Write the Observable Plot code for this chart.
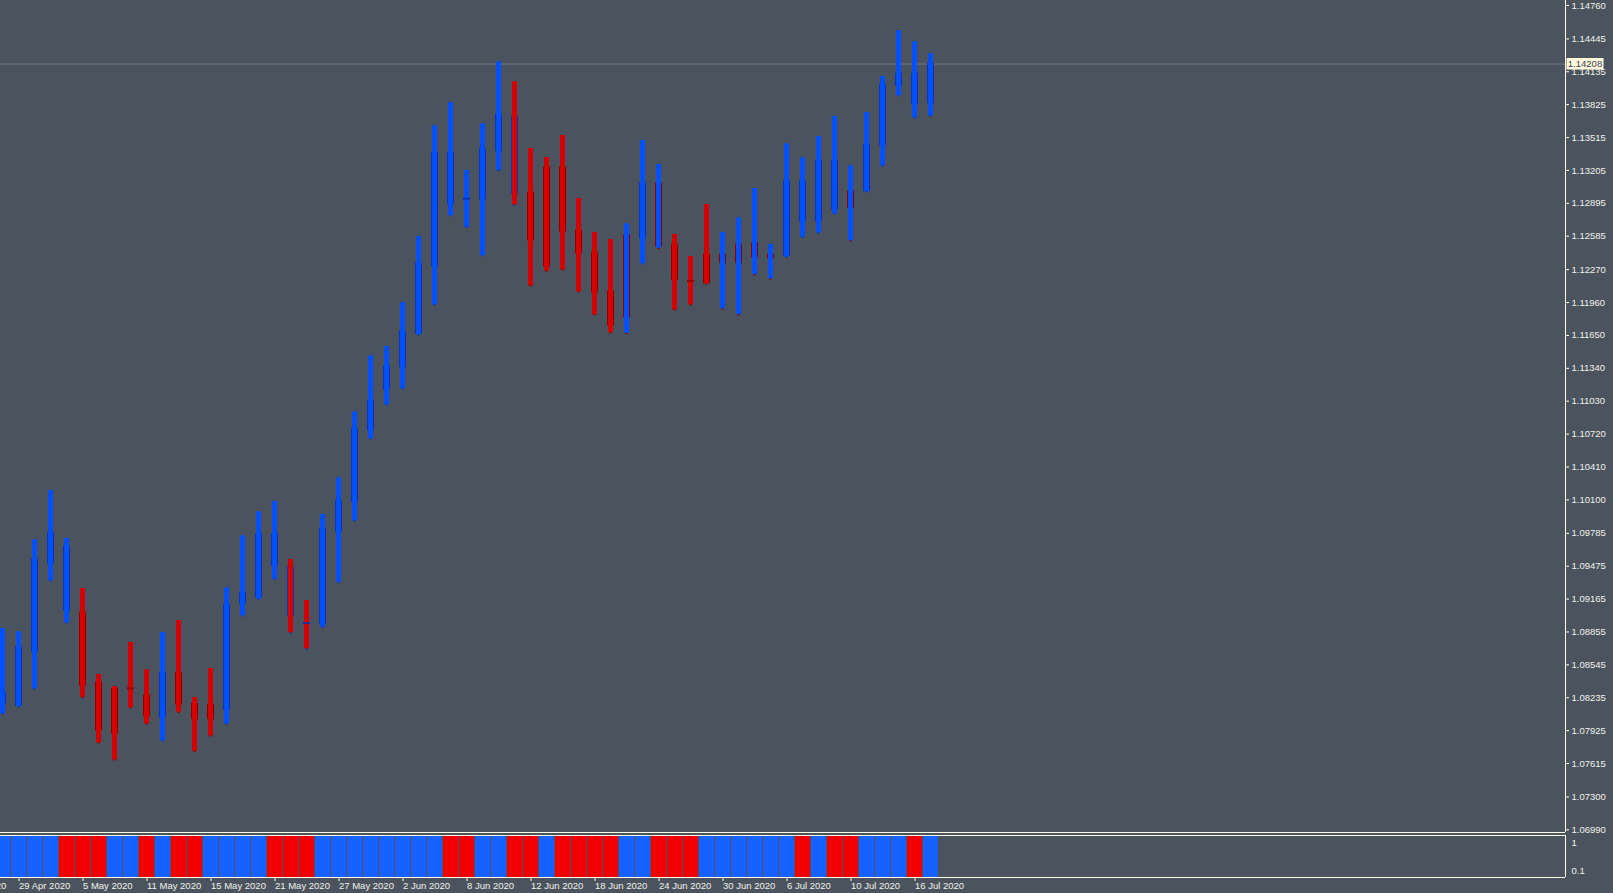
<!DOCTYPE html>
<html>
<head>
<meta charset="utf-8">
<script src="https://cdn.jsdelivr.net/npm/d3@7"></script>
<script src="https://cdn.jsdelivr.net/npm/@observablehq/plot@0.6"></script>
<style>
  html, body { margin: 0; padding: 0; background: #4b545e; overflow: hidden; }
  #chart { width: 1613px; height: 893px; }
  #chart svg { display: block; }
</style>
</head>
<body>
<div id="chart"></div>
<script>
// ---- data (EURUSD-style daily bars) ----
const dates = [
  "23 Apr 2020","24 Apr 2020","27 Apr 2020","28 Apr 2020","29 Apr 2020","30 Apr 2020",
  "1 May 2020","4 May 2020","5 May 2020","6 May 2020","7 May 2020","8 May 2020",
  "11 May 2020","12 May 2020","13 May 2020","14 May 2020","15 May 2020",
  "18 May 2020","19 May 2020","20 May 2020","21 May 2020","22 May 2020",
  "25 May 2020","26 May 2020","27 May 2020","28 May 2020","29 May 2020",
  "1 Jun 2020","2 Jun 2020","3 Jun 2020","4 Jun 2020","5 Jun 2020",
  "8 Jun 2020","9 Jun 2020","10 Jun 2020","11 Jun 2020","12 Jun 2020",
  "15 Jun 2020","16 Jun 2020","17 Jun 2020","18 Jun 2020","19 Jun 2020",
  "22 Jun 2020","23 Jun 2020","24 Jun 2020","25 Jun 2020","26 Jun 2020",
  "29 Jun 2020","30 Jun 2020","1 Jul 2020","2 Jul 2020","3 Jul 2020",
  "6 Jul 2020","7 Jul 2020","8 Jul 2020","9 Jul 2020","10 Jul 2020",
  "13 Jul 2020","14 Jul 2020","15 Jul 2020","16 Jul 2020","17 Jul 2020"
];
const firstCandleDate = "28 Apr 2020";

const open  = [1.08184,1.08159,1.08674,1.09503,1.09057,1.09032,1.08379,1.08319,1.08322,1.08256,
               1.08052,1.08466,1.08178,1.08171,1.08121,1.09126,1.09183,1.09475,1.09460,1.08938,
               1.08932,1.09805,1.10078,1.10754,1.11140,1.11351,1.11665,1.12303,1.12894,1.12931,
               1.12934,1.13387,1.13714,1.12997,1.13233,1.13233,1.12639,1.12432,1.12064,1.11822,
               1.12564,1.12488,1.12507,1.12164,1.12413,1.12331,1.12331,1.12388,1.12375,1.12404,
               1.12727,1.12727,1.12837,1.12849,1.13010,1.13443,1.14003,1.13833,1.13839];
const high  = [1.08888,1.08857,1.09724,1.10188,1.09736,1.09265,1.08454,1.08341,1.08756,1.08498,
               1.08850,1.08963,1.08237,1.08511,1.09271,1.09761,1.09988,1.10085,1.09538,1.09152,
               1.09962,1.10308,1.10930,1.11458,1.11546,1.11961,1.12583,1.13626,1.13846,1.13205,
               1.13645,1.14229,1.14041,1.13412,1.13327,1.13535,1.12941,1.12620,1.12554,1.12702,
               1.13488,1.13261,1.12601,1.12394,1.12884,1.12620,1.12759,1.13035,1.12507,1.13456,
               1.13324,1.13525,1.13714,1.13249,1.13751,1.14091,1.14524,1.14418,1.14305];
const low   = [1.08084,1.08150,1.08319,1.09337,1.08941,1.08240,1.07810,1.07650,1.08140,1.07989,
               1.07829,1.08099,1.07731,1.07876,1.07989,1.09007,1.09164,1.09352,1.08847,1.08696,
               1.08900,1.09324,1.09903,1.10676,1.10996,1.11147,1.11656,1.11939,1.12778,1.12670,
               1.12401,1.13205,1.12880,1.12118,1.12257,1.12269,1.12061,1.11845,1.11675,1.11670,
               1.12325,1.12472,1.11892,1.11939,1.12137,1.11901,1.11845,1.12222,1.12184,1.12388,
               1.12576,1.12617,1.12797,1.12542,1.13004,1.13249,1.13909,1.13701,1.13720];
const close = [1.08284,1.08709,1.09538,1.09790,1.09661,1.08350,1.07926,1.07898,1.08316,1.08061,
               1.08473,1.08171,1.08033,1.08033,1.09114,1.09224,1.09774,1.09774,1.09001,1.08932,
               1.09821,1.10085,1.10773,1.11037,1.11357,1.11687,1.12325,1.13372,1.13372,1.12937,
               1.13403,1.13733,1.12988,1.12545,1.12300,1.12630,1.12425,1.12055,1.11744,1.12592,
               1.13082,1.13079,1.12174,1.12158,1.12142,1.12413,1.12507,1.12517,1.12413,1.13098,
               1.13098,1.13299,1.13299,1.13007,1.13440,1.14006,1.14116,1.14116,1.14208];
// tone of the body outline drawn under each bar
const bodyTone = ["U","U","U","U","U","D","D","D","D","D",
                  "U","D","D","D","U","U","U","U","U","U",
                  "U","U","U","U","U","U","U","U","U","U",
                  "U","U","U","D","D","D","D","D","D","D",
                  "U","D","D","D","D","D","D","D","D","U",
                  "U","U","U","D","U","U","U","U","U"];
// colour of the signal histogram in the lower window
const signal   = ["U","U","U","U","D","D","D","U","U","D",
                  "U","D","D","U","U","U","U","D","D","D",
                  "U","U","U","U","U","U","U","U","D","D",
                  "U","U","D","D","U","D","D","D","D","U",
                  "U","D","D","D","U","U","U","U","U","U",
                  "D","U","D","D","U","U","U","D","U"];

const priceTicks = [1.14760,1.14445,1.14135,1.13825,1.13515,1.13205,1.12895,1.12585,1.12270,
                    1.11960,1.11650,1.11340,1.11030,1.10720,1.10410,1.10100,1.09785,1.09475,
                    1.09165,1.08855,1.08545,1.08235,1.07925,1.07615,1.07300,1.06990];
const priceRange = [1.06965, 1.14807];
const lastPrice = 1.14208;
const dateTicks = ["23 Apr 2020","29 Apr 2020","5 May 2020","11 May 2020","15 May 2020",
                   "21 May 2020","27 May 2020","2 Jun 2020","8 Jun 2020","12 Jun 2020",
                   "18 Jun 2020","24 Jun 2020","30 Jun 2020","6 Jul 2020","10 Jul 2020","16 Jul 2020"];
const indicatorLabels = ["1", "0.1"];
const indicatorValues = [1, 0.1];

// ---- styling ----
const BG = "#4b545e";
const UP = "#0050ff", DOWN = "#d60000";
const UP_DARK = "#0b35b4", DOWN_DARK = "#8c0000";
const HIST_UP = "#1762ff", HIST_DOWN = "#f20000";
const CREAM = "#fffbe4";
const TEXT = "#f1f1ec";
const PRICE_LINE = "#6e7884";
const FONT = "'Liberation Sans', Arial, sans-serif";

const W = 1613, RIGHT = 48, STEP = 16;
const first = dates.indexOf(firstCandleDate);
const x0 = first - 2.5 / STEP;
const xDomain = [x0, x0 + (W - RIGHT) / STEP];

const rows = open.map((o, k) => ({
  x: first + k, open: o, high: high[k], low: low[k], close: close[k],
  wick: close[k] >= o ? UP : DOWN,
  body: bodyTone[k] === "U" ? UP_DARK : DOWN_DARK,
  sig: signal[k] === "U" ? HIST_UP : HIST_DOWN
}));
const dojis = rows.filter(d => Math.abs(d.open - d.close) < 0.0001);

const style = {background: "transparent", color: TEXT, fontFamily: FONT, fontSize: "9.5px"};

const main = Plot.plot({
  width: W, height: 834,
  marginLeft: 0, marginRight: RIGHT, marginTop: 0, marginBottom: 2,
  x: {domain: xDomain, axis: null},
  y: {domain: priceRange, label: null},
  color: {type: "identity"},
  style,
  marks: [
    Plot.ruleY([lastPrice], {stroke: PRICE_LINE}),
    Plot.rect(rows, {x1: d => d.x - 3.5 / STEP, x2: d => d.x + 3.5 / STEP, y1: "open", y2: "close",
                     fill: "body", insetTop: -0.5, insetBottom: -0.5}),
    Plot.rect(rows, {x1: d => d.x - 1.5 / STEP, x2: d => d.x + 1.5 / STEP, y1: "low", y2: "low",
                     fill: "body", insetBottom: -1}),
    Plot.rect(rows, {x1: d => d.x - 2.5 / STEP, x2: d => d.x + 2.5 / STEP, y1: "low", y2: "high",
                     fill: "wick"}),
    Plot.rect(dojis, {x1: d => d.x - 3.5 / STEP, x2: d => d.x + 3.5 / STEP, y1: "open", y2: "close",
                      fill: "body", insetTop: -0.5, insetBottom: -0.5}),
    Plot.ruleY([priceRange[0]], {stroke: CREAM}),
    Plot.ruleX([xDomain[1]], {stroke: CREAM}),
    Plot.axisY({anchor: "right", ticks: priceTicks, tickFormat: d3.format(".5f"),
                tickSize: 3, tickPadding: 3, stroke: CREAM, fill: TEXT, label: null})
  ]
});

// current-price tag on the price scale
{
  const yy = main.scale("y").apply(lastPrice);
  const xr = main.scale("x").apply(xDomain[1]);
  const g = d3.select(main).append("g");
  g.append("rect").attr("x", xr + 1.5).attr("y", Math.round(yy) - 6).attr("width", 37).attr("height", 11.5)
    .attr("fill", "#fff8da");
  g.append("text").attr("x", xr + 20).attr("y", yy).attr("text-anchor", "middle")
    .attr("dy", "0.35em").attr("fill", "#34425c").attr("font-family", FONT).attr("font-size", "9.5px")
    .text(d3.format(".5f")(lastPrice));
}

const lower = Plot.plot({
  width: W, height: 59,
  marginLeft: 0, marginRight: RIGHT, marginTop: 1, marginBottom: 16,
  x: {domain: xDomain, label: null},
  y: {domain: [0, 1], axis: null},
  color: {type: "identity"},
  style,
  marks: [
    Plot.rect(rows, {x1: d => d.x - 0.5, x2: d => d.x + 0.5, y1: 0, y2: 1, fill: "sig",
                     insetLeft: 0.5, insetRight: 0.5}),
    Plot.ruleY([0, 1], {stroke: CREAM}),
    Plot.ruleX([xDomain[1]], {stroke: CREAM}),
    Plot.text([indicatorLabels[0]], {y: indicatorValues[0], text: d => d, frameAnchor: "right",
                                     dx: 6, dy: 7, textAnchor: "start", fill: TEXT}),
    Plot.text([indicatorLabels[1]], {y: indicatorValues[1], text: d => d, frameAnchor: "right",
                                     dx: 6, dy: -2, textAnchor: "start", fill: TEXT}),
    Plot.axisX({anchor: "bottom", ticks: dateTicks.map(d => dates.indexOf(d)),
                tickFormat: i => dates[i], tickSize: 4, tickPadding: 1, textAnchor: "start",
                stroke: CREAM, fill: TEXT, label: null})
  ]
});

document.getElementById("chart").append(main, lower);
</script>
</body>
</html>
